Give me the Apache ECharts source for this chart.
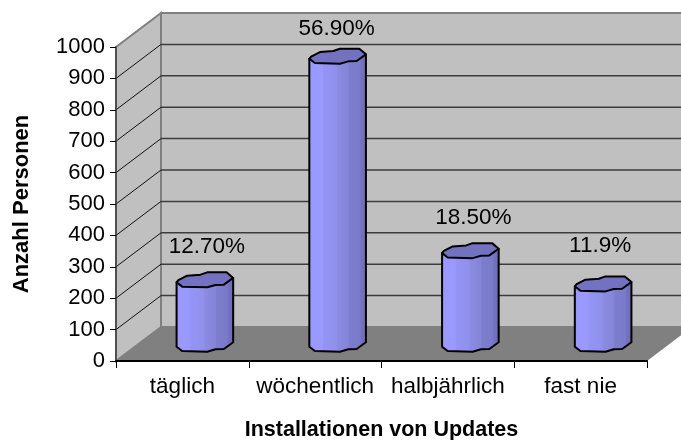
<!DOCTYPE html>
<html>
<head>
<meta charset="utf-8">
<style>html,body{margin:0;padding:0;background:#fff}#chart{width:681px;height:440px}</style>
<script src="https://cdn.jsdelivr.net/npm/echarts@6/dist/echarts.min.js"></script>
</head>
<body>
<div id="chart"></div>
<script>
// Installationshäufigkeit von Updates
const categories = ['täglich', 'wöchentlich', 'halbjährlich', 'fast nie'];
const persons = [205, 917, 298, 192];
const shareLabels = ['12.70%', '56.90%', '18.50%', '11.9%'];
const yTicks = [0, 100, 200, 300, 400, 500, 600, 700, 800, 900, 1000];

// Depth of the pseudo-3D box, in pixels
const DEPTH_X = 45;
const DEPTH_Y = 34;

// Outline of a cylinder slice, relative to its centre
const SLICE = [
  [-28.3, 2.7], [-22.7, 7], [2.3, 7.7], [10.7, 5.3], [19, 5], [28.3, -1.7],
  [21.7, -7.3], [2.3, -7.3], [-4.3, -5], [-17.7, -4], [-26.5, 0.5]
];
const LOWER_EDGE = SLICE.slice(0, 6);
const LABEL_NUDGE = [[2, -25], [-1, -19], [3, -25], [-3, -30]];

const font = '"Liberation Sans", Arial, sans-serif';
const poly = (points, style, z2) => ({ type: 'polygon', shape: { points }, style, z2 });

function renderBox(params, api) {
  const band = api.size([1, 0])[0];
  const left = api.coord([0, 0])[0] - band / 2;
  const right = left + band * categories.length;
  const y0 = api.coord([0, 0])[1];
  const yMax = api.coord([0, 1000])[1];
  const wall = { fill: '#c0c0c0', stroke: '#808080', lineWidth: 2 };
  const children = [
    poly([[left + DEPTH_X, yMax - DEPTH_Y], [right + DEPTH_X, yMax - DEPTH_Y],
          [right + DEPTH_X, y0 - DEPTH_Y], [left + DEPTH_X, y0 - DEPTH_Y]], wall, 1),
    poly([[left, yMax], [left + DEPTH_X, yMax - DEPTH_Y],
          [left + DEPTH_X, y0 - DEPTH_Y], [left, y0]], wall, 1),
    poly([[left, y0], [left + DEPTH_X, y0 - DEPTH_Y],
          [right + DEPTH_X, y0 - DEPTH_Y], [right, y0]], { fill: '#808080' }, 2)
  ];
  yTicks.slice(1, -1).forEach(t => {
    const y = api.coord([0, t])[1];
    children.push({
      type: 'polyline',
      shape: { points: [[left, y], [left + DEPTH_X, y - DEPTH_Y]] },
      style: { fill: null, stroke: '#111', lineWidth: 1 },
      z2: 3
    }, {
      type: 'line',
      shape: { x1: left + DEPTH_X, y1: y - DEPTH_Y, x2: right + DEPTH_X, y2: y - DEPTH_Y },
      style: { stroke: '#3c3c3c', lineWidth: 1.5 },
      z2: 3
    });
  });
  return { type: 'group', children };
}

function renderCylinder(params, api) {
  const idx = api.value(0);
  const value = api.value(1);
  const cx = api.coord([idx, 0])[0] + DEPTH_X / 2;
  const base = api.coord([idx, 0])[1] - DEPTH_Y / 2;
  const top = api.coord([idx, value])[1] - DEPTH_Y / 2;
  const at = (pts, cy) => pts.map(p => [cx + p[0], cy + p[1]]);
  const body = at(LOWER_EDGE, base).concat([[cx + 28.3, top - 1.7], [cx - 28.3, top + 2.7]]);
  const shade = {
    type: 'linear', x: 0, y: 0, x2: 1, y2: 0,
    colorStops: [
      { offset: 0, color: '#9494f6' }, { offset: 0.06, color: '#9999ff' },
      { offset: 0.24, color: '#9999ff' }, { offset: 0.26, color: '#9494f5' },
      { offset: 0.48, color: '#9090ec' }, { offset: 0.5, color: '#8b8be2' },
      { offset: 0.68, color: '#8484d8' }, { offset: 0.7, color: '#7d7dce' },
      { offset: 0.88, color: '#7a7acb' }, { offset: 0.9, color: '#7272be' },
      { offset: 1, color: '#6c6cb4' }
    ]
  };
  const stroke = { stroke: '#000', lineWidth: 2, lineJoin: 'round' };
  const nudge = LABEL_NUDGE[idx];
  return {
    type: 'group',
    children: [
      { type: 'polygon', shape: { points: body }, style: { fill: shade, ...stroke } },
      { type: 'polygon', shape: { points: at(SLICE, top) }, style: { fill: '#7272c0', ...stroke }, z2: 1 },
      {
        type: 'text', x: cx + nudge[0], y: top - 8 + nudge[1],
        style: { text: shareLabels[idx], fontFamily: font, fontSize: 22.5, fill: '#000', align: 'center', verticalAlign: 'middle' },
        z2: 2
      }
    ]
  };
}

const chart = echarts.init(document.getElementById('chart'), null, { renderer: 'canvas' });
chart.setOption({
  animation: false,
  backgroundColor: '#fff',
  grid: { left: 116, right: 34, top: 47, bottom: 79, outerBoundsMode: 'none' },
  xAxis: {
    type: 'category',
    data: categories,
    z: 10,
    name: 'Installationen von Updates',
    nameLocation: 'middle',
    nameGap: 58,
    nameMoveOverlap: false,
    nameTextStyle: { fontFamily: font, fontSize: 21.5, fontWeight: 'bold', color: '#000' },
    axisLine: { lineStyle: { color: '#000', width: 2 } },
    axisTick: { show: true, alignWithLabel: false, length: 7, lineStyle: { color: '#000', width: 1 } },
    axisLabel: { fontFamily: font, fontSize: 22.5, color: '#000', margin: 14, interval: 0, hideOverlap: false },
    splitLine: { show: false }
  },
  yAxis: {
    type: 'value',
    min: 0,
    max: 1000,
    interval: 100,
    z: 10,
    name: 'Anzahl Personen',
    nameLocation: 'middle',
    nameGap: 83,
    nameRotate: 90,
    nameMoveOverlap: false,
    nameTextStyle: { fontFamily: font, fontSize: 22, fontWeight: 'bold', color: '#000' },
    axisLine: { show: true, lineStyle: { color: '#404040', width: 1.5 } },
    axisTick: { show: true, length: 6, lineStyle: { color: '#000', width: 1 } },
    axisLabel: { fontFamily: font, fontSize: 22, color: '#000', margin: 11, formatter: v => String(v), showMinLabel: true, showMaxLabel: true },
    splitLine: { show: false }
  },
  series: [
    { type: 'custom', z: 1, silent: true, clip: false, renderItem: renderBox, data: [[0, 0]], encode: { x: 0, y: 1 } },
    { type: 'custom', z: 3, silent: true, clip: false, renderItem: renderCylinder,
      data: persons.map((v, i) => [i, v]), encode: { x: 0, y: 1 } }
  ]
});
</script>
</body>
</html>
